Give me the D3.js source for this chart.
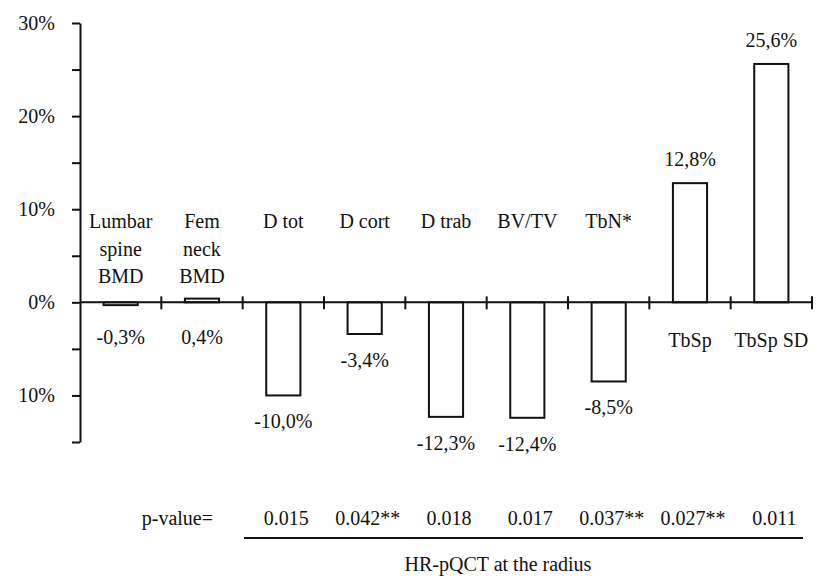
<!DOCTYPE html>
<html>
<head>
<meta charset="utf-8">
<script src="https://cdn.jsdelivr.net/npm/d3@7/dist/d3.min.js"></script>
<style>
    body { margin: 0; background: #fff; }
    svg text { font-family: "Liberation Serif", "Times New Roman", serif; fill: #111; }
</style>
</head>
<body>
<div id="chart"></div>
<script>
const categories = ['Lumbar spine BMD', 'Fem neck BMD', 'D tot', 'D cort', 'D trab', 'BV/TV', 'TbN*', 'TbSp', 'TbSp SD'];
const categoryLines = [['Lumbar', 'spine', 'BMD'], ['Fem', 'neck', 'BMD'], ['D tot'], ['D cort'], ['D trab'], ['BV/TV'], ['TbN*'], ['TbSp'], ['TbSp SD']];
const changes = [-0.3, 0.4, -10.0, -3.4, -12.3, -12.4, -8.5, 12.8, 25.6];
const pValues = ['', '', '0.015', '0.042**', '0.018', '0.017', '0.037**', '0.027**', '0.011'];
const yTicks = [-15, -10, -5, 0, 5, 10, 15, 20, 25, 30];
const yTickLabels = { '-10': '10%', '0': '0%', '10': '10%', '20': '20%', '30': '30%' };
const groupLabel = 'HR-pQCT at the radius';
const pLabel = 'p-value=';

const width = 825;
const height = 579;
const fontSize = 20;
const fontFamily = '"Liberation Serif", "Times New Roman", serif';

const svg = d3.select('#chart').append('svg')
    .attr('width', width)
    .attr('height', height)
    .attr('font-family', fontFamily);

const xScale = d3.scaleBand()
    .domain(categories)
    .range([80, 812])
    .paddingInner(0.58)
    .paddingOuter(0.29);

const yScale = d3.scaleLinear()
    .domain([-15, 30])
    .range([442, 23]);

const zeroY = yScale(0);
const gap = (xScale.step() - xScale.bandwidth()) / 2;

// y axis
svg.append('g')
    .attr('transform', 'translate(80,0)')
    .call(d3.axisLeft(yScale)
        .tickValues(yTicks)
        .tickSize(8)
        .tickSizeOuter(0)
        .tickPadding(17)
        .tickFormat((value) => yTickLabels[value] || ''))
    .attr('font-family', fontFamily)
    .call((group) => group.select('.domain').attr('stroke', '#111').attr('stroke-width', 2))
    .call((group) => group.selectAll('.tick line').attr('stroke', '#111').attr('stroke-width', 2))
    .call((group) => group.selectAll('.tick text')
        .attr('font-size', fontSize)
        .attr('fill', '#111'));

// bars
svg.selectAll('.bar')
    .data(categories)
    .enter()
    .append('rect')
    .attr('class', 'bar')
    .attr('x', (category) => xScale(category))
    .attr('y', (category, index) => yScale(Math.max(changes[index], 0)))
    .attr('width', xScale.bandwidth())
    .attr('height', (category, index) => Math.abs(yScale(changes[index]) - zeroY))
    .attr('fill', '#fff')
    .attr('stroke', '#111')
    .attr('stroke-width', 2);

// x axis line and category separators
svg.append('line')
    .attr('x1', 80)
    .attr('x2', 812)
    .attr('y1', zeroY)
    .attr('y2', zeroY)
    .attr('stroke', '#111')
    .attr('stroke-width', 2);

const boundaries = categories.slice(1).map((category) => xScale(category) - gap).concat([812]);

svg.selectAll('.x-tick')
    .data(boundaries)
    .enter()
    .append('line')
    .attr('class', 'x-tick')
    .attr('x1', (position) => position)
    .attr('x2', (position) => position)
    .attr('y1', zeroY - 6)
    .attr('y2', zeroY + 7)
    .attr('stroke', '#111')
    .attr('stroke-width', 2);

// category labels
categories.forEach((category, index) => {
    const center = xScale(category) + xScale.bandwidth() / 2;
    const below = changes[index] > 1;
    const label = svg.append('text')
        .attr('text-anchor', 'middle')
        .attr('font-size', fontSize)
        .attr('x', center)
        .attr('y', below ? zeroY + 45 : zeroY - 74);
    categoryLines[index].forEach((line, lineIndex) => {
        label.append('tspan')
            .attr('x', center)
            .attr('dy', lineIndex === 0 ? 0 : 27.5)
            .text(line);
    });
});

// value labels
const formatChange = (value) => `${value.toFixed(1).replace('.', ',')}%`;

svg.selectAll('.value-label')
    .data(categories)
    .enter()
    .append('text')
    .attr('class', 'value-label')
    .attr('text-anchor', 'middle')
    .attr('font-size', fontSize)
    .attr('x', (category) => xScale(category) + xScale.bandwidth() / 2)
    .attr('y', (category, index) => {
        const value = changes[index];
        if (value > 1) return yScale(value) - 17;
        return Math.max(yScale(Math.min(value, 0)) + 33, zeroY + 42);
    })
    .text((category, index) => formatChange(changes[index]));

// p-value row
const pRowY = 525;

svg.append('text')
    .attr('text-anchor', 'end')
    .attr('font-size', fontSize)
    .attr('x', 213)
    .attr('y', pRowY)
    .text(pLabel);

svg.selectAll('.p-value')
    .data(categories)
    .enter()
    .append('text')
    .attr('class', 'p-value')
    .attr('text-anchor', 'middle')
    .attr('font-size', fontSize)
    .attr('x', (category) => xScale(category) + xScale.bandwidth() / 2 + 3)
    .attr('y', pRowY)
    .text((category, index) => pValues[index]);

svg.append('line')
    .attr('x1', 244)
    .attr('x2', 803)
    .attr('y1', 538)
    .attr('y2', 538)
    .attr('stroke', '#111')
    .attr('stroke-width', 2);

svg.append('text')
    .attr('text-anchor', 'middle')
    .attr('font-size', fontSize)
    .attr('x', 498)
    .attr('y', 571)
    .text(groupLabel);
</script>
</body>
</html>
